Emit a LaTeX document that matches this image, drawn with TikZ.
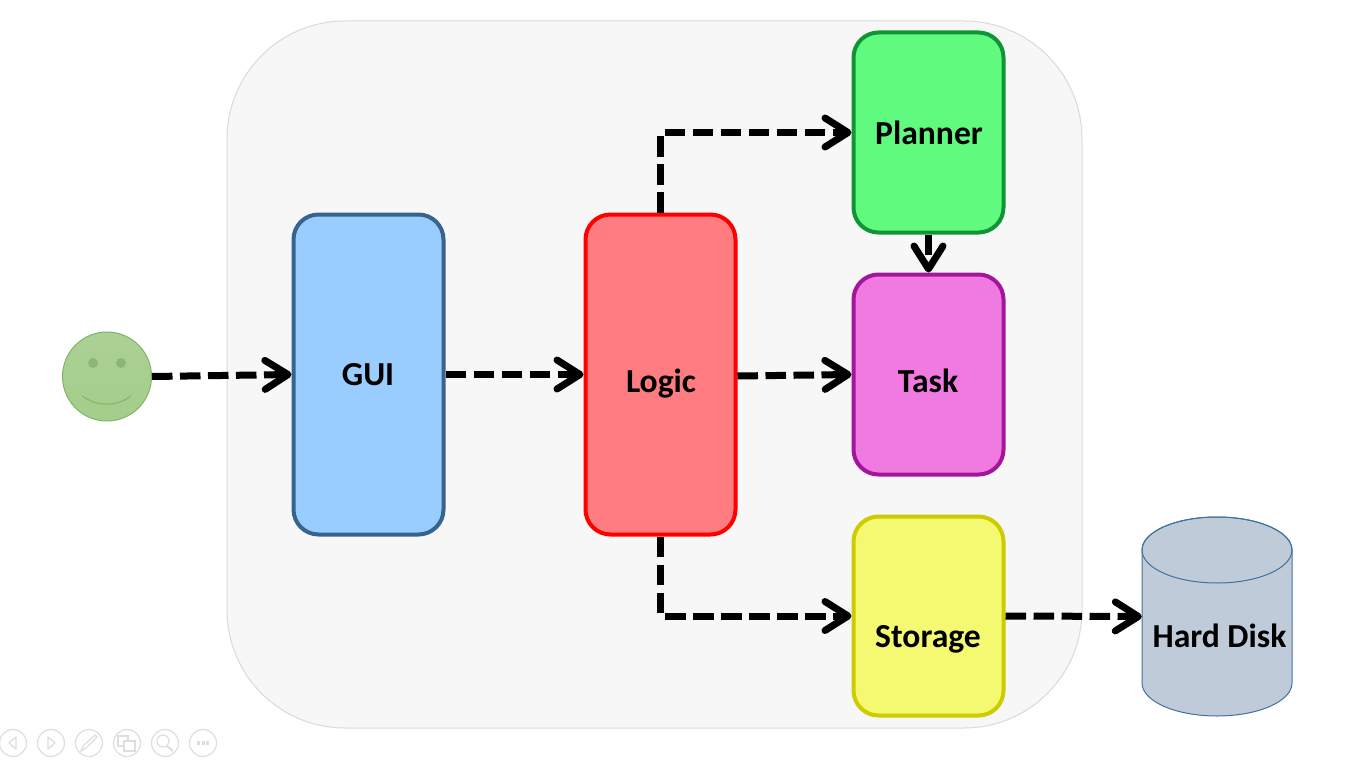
\documentclass[tikz,border=0pt]{standalone}
\usepackage{fontspec}
\setmainfont{Carlito}
\usetikzlibrary{arrows.meta}
\definecolor{panelfill}{HTML}{F7F7F7}
\definecolor{panelline}{HTML}{DADADA}
\definecolor{guifill}{HTML}{99CCFF}
\definecolor{guiline}{HTML}{36648F}
\definecolor{logicfill}{HTML}{FF7C80}
\definecolor{planfill}{HTML}{60FA7E}
\definecolor{planline}{HTML}{0F9535}
\definecolor{taskfill}{HTML}{F07AE0}
\definecolor{taskline}{HTML}{A3159A}
\definecolor{storefill}{HTML}{F5F972}
\definecolor{storeline}{HTML}{CCCC00}
\definecolor{diskfill}{HTML}{C0CBDA}
\definecolor{diskline}{HTML}{41719C}
\definecolor{facetop}{HTML}{ABD094}
\definecolor{facebot}{HTML}{A4CE8B}
\definecolor{faceline}{HTML}{7FB566}
\definecolor{facedark}{HTML}{8DB579}
\definecolor{iconline}{HTML}{DEDEDE}
\tikzset{
  x=1pt,y=-1pt,
  box/.style={draw,line width=4pt,rounded corners=25pt,minimum width=150pt,inner sep=0pt},
  lbl/.style={font=\bfseries\fontsize{33.6}{38}\selectfont,inner sep=0pt,text=black,anchor=base},
  flow/.style={line width=7pt,dash pattern=on 20.5pt off 7.5pt,-{Straight Barb[round,length=23pt,width=29pt,line width=7pt]}},
  icon/.style={draw=iconline,line width=1.2pt,circle,minimum size=27pt,inner sep=0pt},
  glyph/.style={draw=iconline,line width=1.2pt},
}
\begin{document}
\begin{tikzpicture}
\useasboundingbox (0,0) rectangle (1353,760);
\fill[white] (0,0) rectangle (1353,760);
% panel
\node[draw=panelline,fill=panelfill,line width=1pt,rounded corners=118pt,minimum width=855pt,minimum height=707pt,inner sep=0pt] (panel) at (654.5,374.5) {};
% user
\node[draw=faceline,top color=facetop,bottom color=facebot,line width=1pt,circle,minimum size=89pt,inner sep=0pt] (user) at (107,376.5) {};
\fill[facedark] (93,363) circle (5pt);
\fill[facedark] (121,363) circle (5pt);
\draw[faceline,line width=1pt] (82,396) .. controls (98,407) and (116,407) .. (131,396);
% boxes
\node[box,fill=guifill,draw=guiline,minimum height=320pt] (gui) at (368.5,374.5) {};
\node[box,fill=logicfill,draw=red,minimum height=320pt] (logic) at (660.5,374.5) {};
\node[box,fill=planfill,draw=planline,minimum height=200pt] (planner) at (928.5,132.5) {};
\node[box,fill=taskfill,draw=taskline,minimum height=200pt] (task) at (928.5,374.5) {};
\node[box,fill=storefill,draw=storeline,minimum height=199pt] (storage) at (928.5,616) {};
% disk
\node[minimum width=150pt,minimum height=199pt,inner sep=0pt] (disk) at (1217,616.5) {};
\draw[diskline,fill=diskfill,line width=1pt] (1142,550) -- (1142,683) arc (180:360:75pt and 33pt) -- (1292,550) arc (0:180:75pt and 33pt) -- cycle;
\draw[diskline,line width=1pt] (1217,550) ellipse [x radius=75pt,y radius=33pt];
% labels
\node[lbl] (tgui) at (368,385.5) {GUI};
\node[lbl] (tlogic) at (661,392) {Logic};
\node[lbl] (tplanner) at (929,144.5) {Planner};
\node[lbl] (ttask) at (928,392) {Task};
\node[lbl] (tstorage) at (928,647) {Storage};
\node[lbl] (tdisk) at (1219.5,647) {Hard Disk};
% connectors
\draw[flow] (user.east) -- (gui.west);
\draw[flow] (gui.east) -- (logic.west);
\draw[flow] ([yshift=-1.5pt]logic.east) -- (task.west);
\draw[flow] (logic.north) -- (logic.north |- planner.west) -- (planner.west);
\draw[flow] (logic.south) -- (logic.south |- storage.west) -- (storage.west);
\draw[flow] (planner.south) -- (task.north);
\draw[flow] (storage.east) -- (disk.west);
% viewer controls
\node[icon] (i1) at (13,743) {};
\node[icon] (i2) at (51,743) {};
\node[icon] (i3) at (89,743) {};
\node[icon] (i4) at (127,743) {};
\node[icon] (i5) at (165,743) {};
\node[icon] (i6) at (203,743) {};
\draw[glyph,line join=round] (16,737) -- (9,743) -- (16,749) -- cycle;
\draw[glyph,line join=round] (48,737) -- (55,743) -- (48,749) -- cycle;
\draw[glyph] (81,751) -- (84,745) -- (95,735) -- (97,737) -- (86,748) -- cycle;
\draw[glyph] (118,736) rectangle (128,746);
\draw[glyph,fill=white] (124,741) rectangle (135,751);
\draw[glyph] (163,741) circle (6pt);
\draw[glyph,line width=2pt] (167,746) -- (173,751);
\fill[iconline] (197,741) rectangle (200,745);
\fill[iconline] (201.5,741) rectangle (204.5,745);
\fill[iconline] (206,741) rectangle (209,745);
\end{tikzpicture}
\end{document}
